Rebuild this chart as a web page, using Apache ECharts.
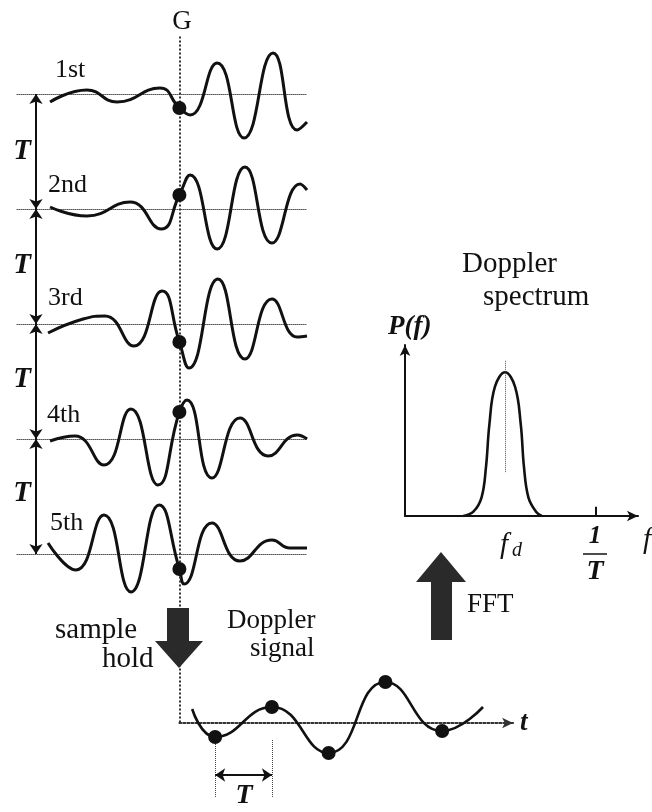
<!DOCTYPE html>
<html>
<head>
    <meta charset="utf-8"/>
    <title>Doppler sampling</title>
    <script src="https://cdn.jsdelivr.net/npm/echarts@6/dist/echarts.min.js"></script>
    <style>
        html, body {margin: 0; padding: 0; background: #fff;}
        #main {width: 652px; height: 812px;}
    </style>
</head>
<body>
<div id="main"></div>
<script>
    // echo waveforms of the 5 pulses: [time, amplitude], time 0..10 across the row
    var echo1 = [[1.14, -0.16], [2.41, 0.08], [3.45, -0.16], [4.93, 0.12], [5.97, -0.42], [6.90, 0.62], [7.83, -0.88], [8.83, 0.82], [9.66, -0.72], [10.0, -0.56]];
    var echo2 = [[1.14, 0.04], [2.41, -0.14], [3.90, 0.14], [4.97, -0.40], [5.97, 0.68], [6.90, -0.80], [7.86, 0.84], [8.79, -0.68], [9.76, 0.50], [10.0, 0.38]];
    var echo3 = [[1.07, -0.18], [2.28, 0.10], [3.03, 0.16], [4.03, -0.44], [5.00, 0.66], [5.93, -0.88], [6.93, 0.90], [7.86, -0.70], [8.79, 0.50], [9.66, -0.26], [10.0, -0.24]];
    var echo4 = [[1.14, -0.04], [2.0, 0.06], [3.0, -0.52], [3.93, 0.60], [4.86, -0.92], [5.86, 0.78], [6.72, -0.78], [7.69, 0.42], [8.66, -0.34], [9.66, 0.08], [10.0, 0.0]];
    var echo5 = [[1.07, 0.22], [2.03, -0.32], [3.0, 0.78], [3.93, -0.76], [4.90, 0.98], [5.76, -0.60], [6.72, 0.62], [7.69, -0.14], [8.79, 0.28], [9.41, 0.12], [10.0, 0.12]];
    var rowLabels = ['1st', '2nd', '3rd', '4th', '5th'];
    // sample gate G and value held at the gate for each pulse
    var gateT = 5.6;
    var gateSamples = [-0.28, 0.28, -0.36, 0.54, -0.30];

    // Doppler signal after sample hold (x in units of T)
    var dopplerN = [1, 2, 3, 4, 5];
    var dopplerSamples = [-0.28, 0.32, -0.60, 0.82, -0.16];
    var dopplerStart = [0.595, 0.28];
    var dopplerEnd = [5.72, 0.32];

    // Doppler spectrum (f in units of 1/T)
    var specF = [0.305, 0.358, 0.401, 0.424, 0.442, 0.471, 0.524, 0.576, 0.606, 0.623, 0.646, 0.686, 0.716];
    var specP = [0, 0.03, 0.13, 0.34, 0.64, 0.90, 1.0, 0.90, 0.64, 0.34, 0.13, 0.03, 0];
    var fd = 0.524;

    var echoes = [echo1, echo2, echo3, echo4, echo5];
    var serif = 'Liberation Serif';
    var ink = '#111';

    // layout of rows
    var ROW0 = 94, ROW_STEP = 115, ROW_LEFT = 17, ROW_W = 290;

    var grids = [], xAxes = [], yAxes = [], series = [];
    var hidden = {show: false};

    echoes.forEach(function (echo, i) {
        var base = ROW0 + i * ROW_STEP;
        grids.push({left: ROW_LEFT, top: base - 50, width: ROW_W, height: 100});
        xAxes.push({
            type: 'value', gridIndex: i, min: 0, max: 10,
            axisLine: {show: true, onZero: true, lineStyle: {type: 'dotted', color: '#555', width: 1}},
            axisTick: hidden, axisLabel: hidden, splitLine: hidden
        });
        yAxes.push({type: 'value', gridIndex: i, min: -1, max: 1, show: false});
        var pts = echo.concat([[gateT, gateSamples[i]]]).sort(function (a, b) { return a[0] - b[0]; });
        series.push({
            type: 'line', xAxisIndex: i, yAxisIndex: i, data: pts, smooth: 0.5,
            showSymbol: false, clip: false, lineStyle: {color: ink, width: 3}
        });
        series.push({
            type: 'scatter', xAxisIndex: i, yAxisIndex: i, data: [[gateT, gateSamples[i]]],
            symbolSize: 14, itemStyle: {color: ink, opacity: 1}, z: 5
        });
    });

    // overlay grid (same time scale, y = pulse number) for gate line and T arrows
    grids.push({left: ROW_LEFT, top: ROW0 - ROW_STEP / 2, width: ROW_W, height: ROW_STEP * 6});
    xAxes.push({type: 'value', gridIndex: 5, min: 0, max: 10, show: false});
    yAxes.push({type: 'value', gridIndex: 5, min: 0.5, max: 6.5, inverse: true, show: false});
    var tArrows = [];
    for (var k = 1; k <= 4; k++) {
        tArrows.push([{coord: [0.655, k]}, {coord: [0.655, k + 1]}]);
    }
    series.push({
        type: 'scatter', xAxisIndex: 5, yAxisIndex: 5, data: [[gateT, 0.5]], symbolSize: 0,
        markLine: {
            silent: true, animation: false, symbol: ['arrow', 'arrow'], symbolSize: 10,
            label: {show: false},
            lineStyle: {color: ink, width: 2, type: 'solid'},
            data: tArrows.concat([[
                {coord: [gateT, 0.5], symbol: 'none', lineStyle: {type: 'dotted', width: 2, color: '#333'}},
                {coord: [gateT, 6.47], symbol: 'none'}
            ]])
        }
    });

    // Doppler signal grid, starts at the gate line
    var gateX = ROW_LEFT + gateT * ROW_W / 10;
    var TPX = 56.75;
    grids.push({left: gateX, top: 673, width: (6.25 - 0.37) * TPX, height: 125});
    xAxes.push({
        type: 'value', gridIndex: 6, min: 0.37, max: 6.25,
        axisLine: {show: true, onZero: true, symbol: ['none', 'arrow'], symbolSize: [8, 11], lineStyle: {type: 'dotted', color: '#333', width: 2}},
        axisTick: hidden, axisLabel: hidden, splitLine: hidden,
        name: 't', nameLocation: 'end', nameGap: 7,
        nameTextStyle: {fontFamily: serif, fontStyle: 'italic', fontWeight: 'bold', fontSize: 27, color: ink}
    });
    yAxes.push({type: 'value', gridIndex: 6, min: -1.5, max: 1, show: false});
    var dopplerPts = dopplerN.map(function (n, i) { return [n, dopplerSamples[i]]; });
    series.push({
        type: 'line', xAxisIndex: 6, yAxisIndex: 6, smooth: 0.5, showSymbol: false, clip: false,
        data: [dopplerStart].concat(dopplerPts, [dopplerEnd]),
        lineStyle: {color: ink, width: 2.6},
        markLine: {
            silent: true, animation: false, symbol: 'none', label: {show: false},
            lineStyle: {color: '#444', width: 1, type: 'dotted'},
            data: [
                [{coord: [1, -0.34]}, {coord: [1, -1.5]}],
                [{coord: [2, -0.34]}, {coord: [2, -1.5]}],
                [{coord: [1, -1.04], symbol: 'arrow', symbolSize: 10, lineStyle: {type: 'solid', width: 2, color: ink}},
                    {coord: [2, -1.04], symbol: 'arrow', symbolSize: 10}]
            ]
        }
    });
    series.push({
        type: 'scatter', xAxisIndex: 6, yAxisIndex: 6, data: dopplerPts,
        symbolSize: 14, itemStyle: {color: ink, opacity: 1}, z: 5
    });

    // Doppler spectrum grid
    grids.push({left: 405, top: 345, width: 233, height: 171});
    xAxes.push({
        type: 'value', gridIndex: 7, min: 0, max: 1.22,
        axisLine: {show: true, symbol: ['none', 'arrow'], symbolSize: [8, 11], lineStyle: {color: ink, width: 2}},
        axisTick: hidden, axisLabel: hidden, splitLine: hidden
    });
    yAxes.push({
        type: 'value', gridIndex: 7, min: 0, max: 1.19,
        axisLine: {show: true, symbol: ['none', 'arrow'], symbolSize: [8, 11], lineStyle: {color: ink, width: 2}},
        axisTick: hidden, axisLabel: hidden, splitLine: hidden
    });
    series.push({
        type: 'line', xAxisIndex: 7, yAxisIndex: 7, smooth: 0.4, showSymbol: false,
        data: specF.map(function (f, i) { return [f, specP[i]]; }),
        lineStyle: {color: ink, width: 2.6},
        markLine: {
            silent: true, animation: false, symbol: 'none', label: {show: false},
            data: [
                [{coord: [fd, 1.08], lineStyle: {type: 'dotted', width: 1, color: '#555'}}, {coord: [fd, 0.30]}],
                [{coord: [1, 0], lineStyle: {type: 'solid', width: 2, color: ink}}, {coord: [1, 0.065]}]
            ]
        }
    });

    // text labels and block arrows
    function txt(x, y, s, size, opt) {
        opt = opt || {};
        return {
            type: 'text', x: x, y: y, z: 10,
            style: {
                text: s, fill: ink, fontFamily: serif, fontSize: size,
                fontStyle: opt.style || 'normal', fontWeight: opt.weight || 'normal',
                align: opt.align || 'left', verticalAlign: 'middle'
            }
        };
    }
    var bi = {style: 'italic', weight: 'bold'};
    var bic = {style: 'italic', weight: 'bold', align: 'center'};
    var graphics = [
        txt(182, 22, 'G', 27, {align: 'center'}),
        txt(55, 70, rowLabels[0], 26),
        txt(48, 185, rowLabels[1], 26),
        txt(48, 298, rowLabels[2], 26),
        txt(47, 415, rowLabels[3], 26),
        txt(50, 523, rowLabels[4], 26),
        txt(22, 152, 'T', 29, bic),
        txt(22, 266, 'T', 29, bic),
        txt(22, 380, 'T', 29, bic),
        txt(22, 494, 'T', 29, bic),
        txt(55, 630, 'sample', 29),
        txt(102, 659, 'hold', 29),
        txt(227, 621, 'Doppler', 27),
        txt(250, 649, 'signal', 27),
        txt(462, 264, 'Doppler', 29),
        txt(483, 297, 'spectrum', 29),
        txt(388, 327, 'P(f)', 27, bi),
        txt(467, 605, 'FFT', 27),
        txt(500, 545, 'f', 29, {style: 'italic'}),
        txt(512, 551, 'd', 20, {style: 'italic'}),
        txt(595, 537, '1', 25, bic),
        txt(595, 572, 'T', 28, bic),
        txt(643, 540, 'f', 29, {style: 'italic'}),
        txt(244, 796, 'T', 28, bic),
        {type: 'line', shape: {x1: 583, y1: 554, x2: 607, y2: 554}, style: {stroke: ink, lineWidth: 1.5}},
        {
            type: 'polygon', z: 10,
            shape: {points: [[167, 608], [189, 608], [189, 641], [203, 641], [179, 668], [155, 641], [167, 641]]},
            style: {fill: '#2a2a2a'}
        },
        {
            type: 'polygon', z: 10,
            shape: {points: [[441, 552], [466, 582], [452, 582], [452, 640], [431, 640], [431, 582], [416, 582]]},
            style: {fill: '#2a2a2a'}
        }
    ];

    var chart = echarts.init(document.getElementById('main'));
    chart.setOption({
        animation: false,
        backgroundColor: '#fff',
        grid: grids,
        xAxis: xAxes,
        yAxis: yAxes,
        series: series,
        graphic: graphics
    });
    window.onresize = function () {
        chart.resize();
    };
</script>
</body>
</html>
